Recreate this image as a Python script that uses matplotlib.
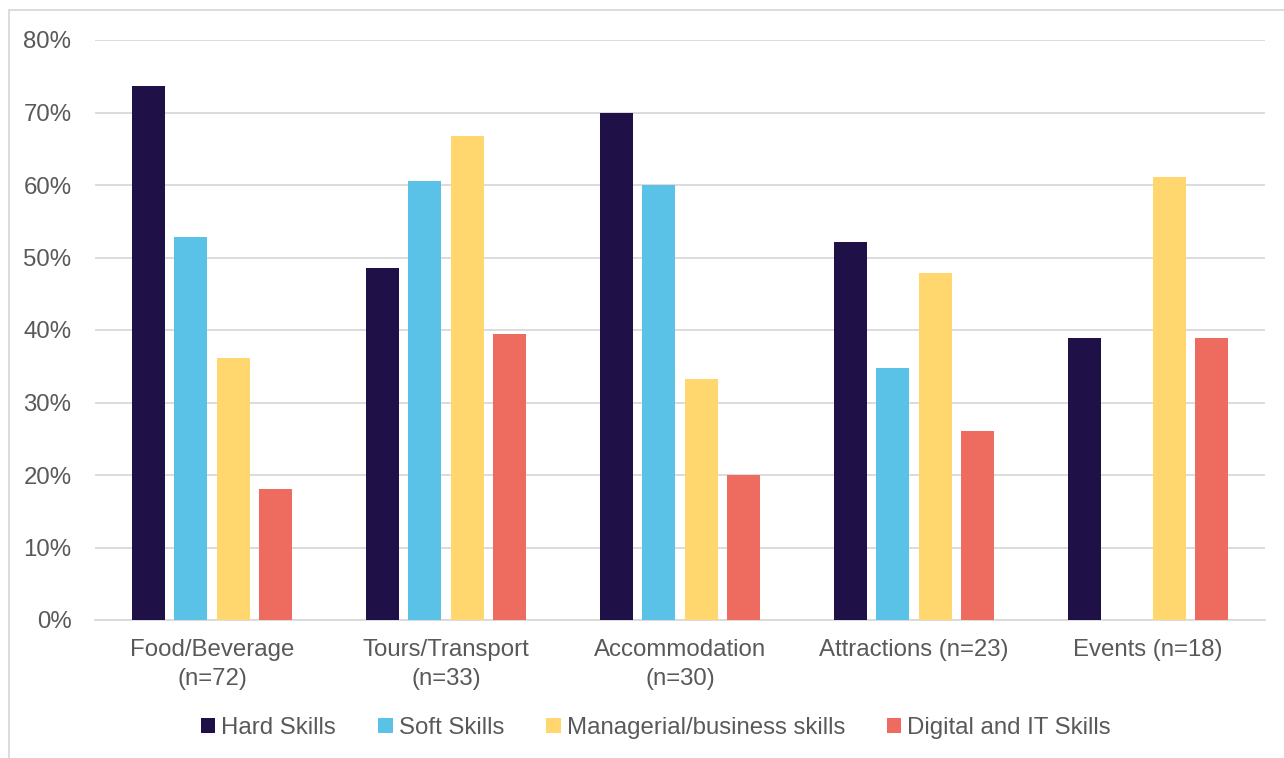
import numpy as np
import matplotlib.pyplot as plt
from matplotlib.patches import Rectangle

plt.rcParams['font.family'] = ['Liberation Sans', 'DejaVu Sans']

# Porcentaje de negocios por sector y tipo de habilidad
sectores = ['Food/Beverage\n(n=72)', 'Tours/Transport\n(n=33)', 'Accommodation\n(n=30)',
            'Attractions (n=23)', 'Events (n=18)']
hard_skills = [73.6, 48.5, 70.0, 52.2, 38.9]
soft_skills = [52.8, 60.6, 60.0, 34.8, 0.0]
managerial = [36.1, 66.7, 33.3, 47.8, 61.1]
digital_it = [18.1, 39.4, 20.0, 26.1, 38.9]

series = ['Hard Skills', 'Soft Skills', 'Managerial/business skills', 'Digital and IT Skills']
valores = [hard_skills, soft_skills, managerial, digital_it]
colores = ['#1f1147', '#5bc2e7', '#ffd76e', '#ee6b5f']

fig = plt.figure(figsize=(12.84, 7.58), dpi=100)
ax = fig.add_axes([95 / 1284, 1 - 620 / 758, 1170 / 1284, 580 / 758])

x = np.arange(len(sectores))
ancho = 0.141
paso = 0.18
for i, (nombre, vals, color) in enumerate(zip(series, valores, colores)):
    ax.bar(x + (i - 1.5) * paso, vals, ancho, color=color, label=nombre, zorder=3)

ax.set_xlim(-0.5, len(sectores) - 0.5)
ax.set_ylim(0, 80)
ax.set_yticks(range(0, 81, 10))
ax.set_yticklabels([f'{v}%' for v in range(0, 81, 10)])
ax.set_xticks(x)
ax.set_xticklabels(sectores, linespacing=1.4)
ax.grid(axis='y', color='#d9d9d9', linewidth=1.3, zorder=0)
for s in ['top', 'right', 'left']:
    ax.spines[s].set_visible(False)
ax.spines['bottom'].set_color('#d9d9d9')
ax.spines['bottom'].set_linewidth(1.3)
ax.tick_params(axis='both', length=0, labelsize=17.3, colors='#595959')
ax.tick_params(axis='y', pad=17)
ax.tick_params(axis='x', pad=14)

# Marco gris del área del gráfico
fig.patches.append(Rectangle((9 / 1284, -0.05), 1.2, 1 - 10 / 758 + 0.05,
                             transform=fig.transFigure, fill=False,
                             edgecolor='#d9d9d9', linewidth=1.3))

fig.legend(loc='center', bbox_to_anchor=(656 / 1284, 1 - 728 / 758), ncol=4,
           frameon=False, fontsize=17.3, labelcolor='#595959',
           handlelength=0.6, handleheight=0.6, handletextpad=0.25, columnspacing=1.75)

plt.savefig('out.png')
